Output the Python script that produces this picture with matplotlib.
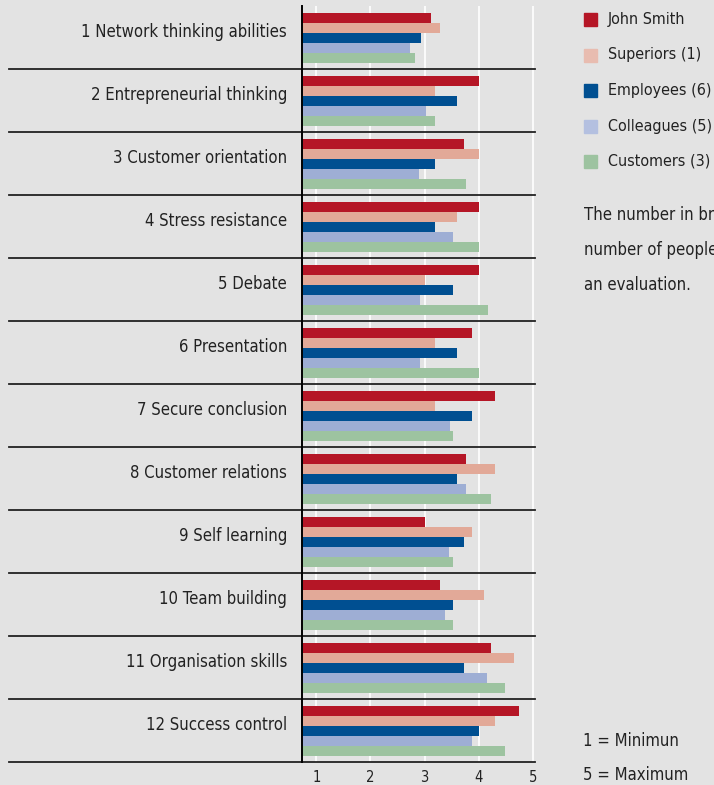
import numpy as np
import matplotlib.pyplot as plt
from matplotlib.patches import Rectangle

# --- data ---
categories = ['1 Network thinking abilities', '2 Entrepreneurial thinking', '3 Customer orientation',
              '4 Stress resistance', '5 Debate', '6 Presentation', '7 Secure conclusion',
              '8 Customer relations', '9 Self learning', '10 Team building',
              '11 Organisation skills', '12 Success control']
series_names = ['John Smith', 'Superiors (1)', 'Employees (6)', 'Colleagues (5)', 'Customers (3)']
john = [3.12, 4.0, 3.73, 4.0, 4.0, 3.88, 4.31, 3.77, 3.0, 3.29, 4.23, 4.74]
superiors = [3.29, 3.2, 4.0, 3.6, 3.0, 3.2, 3.2, 4.31, 3.88, 4.09, 4.66, 4.31]
employees = [2.93, 3.6, 3.2, 3.2, 3.53, 3.6, 3.88, 3.6, 3.73, 3.53, 3.73, 4.0]
colleagues = [2.73, 3.02, 2.89, 3.53, 2.92, 2.92, 3.47, 3.77, 3.45, 3.38, 4.16, 3.88]
customers = [2.82, 3.2, 3.77, 4.0, 4.18, 4.0, 3.53, 4.23, 3.53, 3.53, 4.49, 4.49]
xticks = [1, 2, 3, 4, 5]

colors = ['#b51626', '#e2a998', '#004f91', '#9eaed4', '#9dc3a0']
legend_colors = ['#b51626', '#e8bcb0', '#004f91', '#b4c0e0', '#9dc3a0']
bg = '#e3e3e3'
plt.rcParams['font.family'] = ['DejaVu Sans']
plt.rcParams['font.stretch'] = 'condensed'
txt = dict(color='#222222', fontstretch='condensed')

fig = plt.figure(figsize=(7.14, 7.85), dpi=100, facecolor=bg)
ax = fig.add_axes([302 / 714, 23 / 785, 233 / 714, 756 / 785])
ax.set_facecolor(bg)

all_series = [john, superiors, employees, colleagues, customers]
y = np.arange(len(categories))
h = 10 / 63
for k, vals in enumerate(all_series):
    ax.barh(y + (k - 2) * h, np.array(vals) - 0.735, left=0.735, height=h,
            color=colors[k], zorder=3)

ax.set_xlim(0.735, 5.04)
ax.set_ylim(len(categories) - 0.5, -0.5)

for xv in xticks:
    ax.axvline(xv, color='white', lw=1.2, zorder=1)

# separator lines spanning into the label area
for i in range(len(categories)):
    ax.axhline(i + 0.5, xmin=(9 - 302) / 233, xmax=1, color='#222222', lw=1.3,
               clip_on=False, zorder=4)

for s in ['top', 'right', 'bottom']:
    ax.spines[s].set_visible(False)
ax.spines['left'].set_color('black')
ax.spines['left'].set_linewidth(1.4)
ax.spines['left'].set_zorder(5)

ax.set_yticks([])
ax.set_xticks(xticks)
ax.set_xticklabels([str(t) for t in xticks], fontsize=10.5, **txt)
ax.tick_params(axis='x', length=0, pad=6)

trans = ax.get_yaxis_transform()
for i, c in enumerate(categories):
    ax.text(-0.064, i - 0.09, c, transform=trans, ha='right', va='center',
            fontsize=12, **txt)

# legend
for k, name in enumerate(series_names):
    yc = 19.5 + k * 35.5
    fig.patches.append(Rectangle((584 / 714, 1 - (yc + 6.5) / 785), 13 / 714, 13 / 785,
                                 transform=fig.transFigure, color=legend_colors[k]))
    fig.text(608 / 714, 1 - yc / 785, name, ha='left', va='center', fontsize=11.5, **txt)

note = ['The number in brackets indicates the', 'number of people who have given', 'an evaluation.']
for j, line in enumerate(note):
    fig.text(584 / 714, 1 - (215 + 35 * j) / 785, line, ha='left', va='center',
             fontsize=12, **txt)

fig.text(583 / 714, 1 - 741 / 785, '1 = Minimun', ha='left', va='center', fontsize=12, **txt)
fig.text(583 / 714, 1 - 775 / 785, '5 = Maximum', ha='left', va='center', fontsize=12, **txt)

fig.savefig('out.png', dpi=100, facecolor=bg)
